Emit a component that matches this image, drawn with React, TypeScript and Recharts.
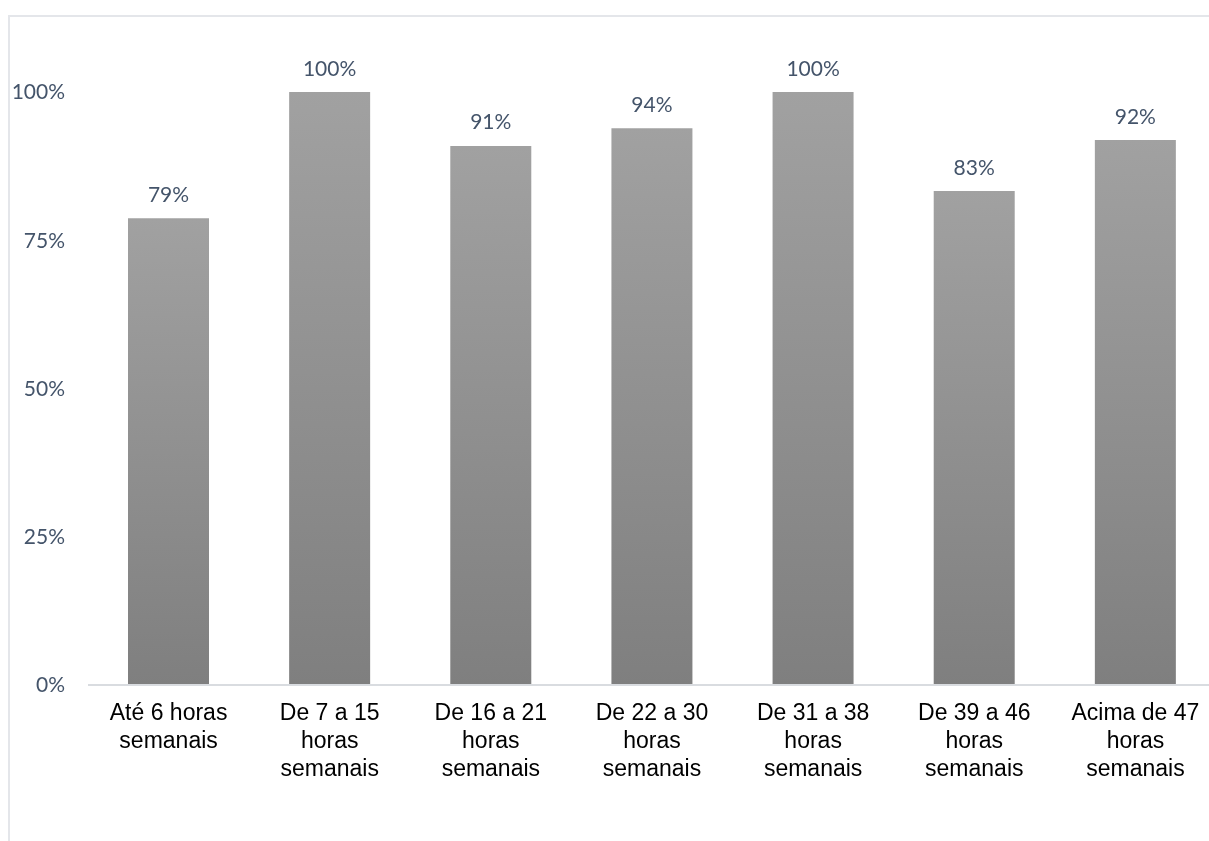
import { BarChart, Bar, XAxis, YAxis, LabelList } from 'recharts'

const categories = [
  'Até 6 horas\nsemanais',
  'De 7 a 15\nhoras\nsemanais',
  'De 16 a 21\nhoras\nsemanais',
  'De 22 a 30\nhoras\nsemanais',
  'De 31 a 38\nhoras\nsemanais',
  'De 39 a 46\nhoras\nsemanais',
  'Acima de 47\nhoras\nsemanais',
]
const values = [0.787, 1.0, 0.909, 0.939, 1.0, 0.833, 0.919]
const yTicks = [0, 0.25, 0.5, 0.75, 1]

const data = categories.map((c, i) => ({ name: c, value: values[i] }))

const LABEL_COLOR = '#44546a'

function CategoryTick({ x, y, payload }: any) {
  const lines = String(payload.value).split('\n')
  return (
    <g>
      {lines.map((line, i) => (
        <text
          key={i}
          x={x}
          y={y + 27 + i * 28}
          textAnchor="middle"
          dominantBaseline="central"
          fontFamily="Liberation Sans, Arial, sans-serif"
          fontSize={23}
          fill="#000"
        >
          {line}
        </text>
      ))}
    </g>
  )
}

function ValueLabel({ x, y, width, value }: any) {
  return (
    <text
      x={x + width / 2}
      y={y - 25}
      textAnchor="middle"
      dominantBaseline="central"
      fontFamily="Lato, sans-serif"
      fontSize={21}
      fill={LABEL_COLOR}
    >
      {Math.round(value * 100)}%
    </text>
  )
}

export default function App() {
  return (
    <div style={{ position: 'fixed', left: 0, top: 0, width: 1209, height: 841, overflow: 'hidden' }}>
      <div
        style={{
          position: 'absolute',
          left: 8,
          top: 15,
          width: 1400,
          height: 1000,
          borderTop: '2px solid #e4e6ea',
          borderLeft: '2px solid #e4e6ea',
        }}
      />
      <div style={{ position: 'absolute', left: 8, top: 8 }}>
        <BarChart
          width={1230}
          height={833}
          data={data}
          margin={{ top: 84, right: 22, bottom: 126, left: 0 }}
          barSize={81}
        >
          <defs>
            <linearGradient id="barGrad" x1="0" y1="0" x2="0" y2="1">
              <stop offset="0%" stopColor="#a1a1a1" />
              <stop offset="100%" stopColor="#7f7f7f" />
            </linearGradient>
          </defs>
          <XAxis
            dataKey="name"
            height={30}
            interval={0}
            tickLine={false}
            tickSize={0}
            tickMargin={0}
            axisLine={{ stroke: '#d9dce0', strokeWidth: 2 }}
            tick={<CategoryTick />}
          />
          <YAxis
            width={80}
            domain={[0, 1]}
            ticks={yTicks}
            interval={0}
            axisLine={false}
            tickLine={false}
            tickSize={0}
            tickMargin={23}
            tickFormatter={(v: number) => `${Math.round(v * 100)}%`}
            tick={{ fontFamily: 'Lato, sans-serif', fontSize: 21, fill: LABEL_COLOR }}
          />
          <Bar dataKey="value" fill="url(#barGrad)" isAnimationActive={false}>
            <LabelList dataKey="value" content={<ValueLabel />} />
          </Bar>
        </BarChart>
      </div>
    </div>
  )
}
